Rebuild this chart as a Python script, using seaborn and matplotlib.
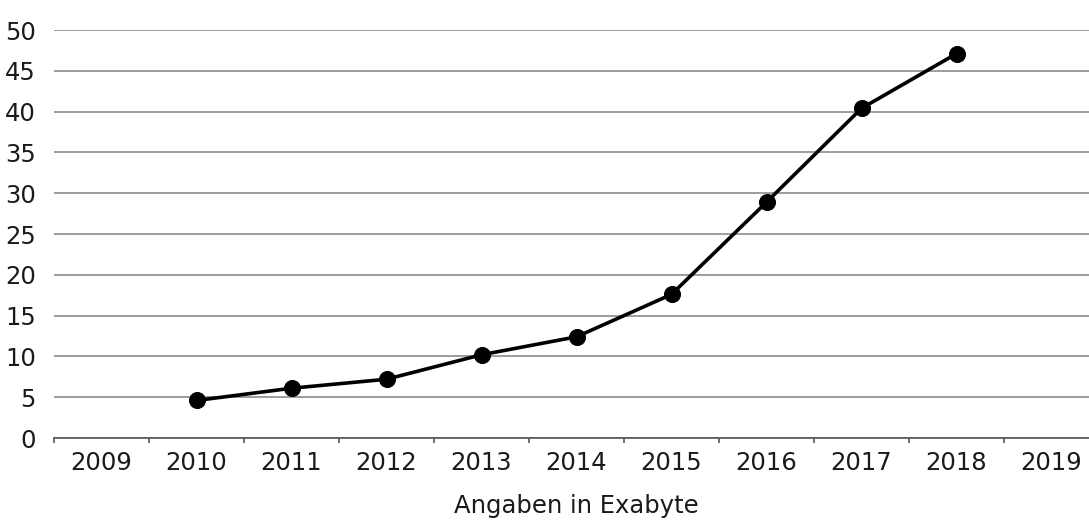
import numpy as np
import pandas as pd
import matplotlib
matplotlib.use("Agg")
import matplotlib.pyplot as plt
import seaborn as sns

years = [2009, 2010, 2011, 2012, 2013, 2014, 2015, 2016, 2017, 2018, 2019]
data_years = [2010, 2011, 2012, 2013, 2014, 2015, 2016, 2017, 2018]
exabyte = [4.6, 6.1, 7.2, 10.2, 12.4, 17.6, 28.9, 40.4, 47.1]
y_ticks = [0, 5, 10, 15, 20, 25, 30, 35, 40, 45, 50]

sns.set_style("white")
plt.rcParams['font.family'] = ['DejaVu Sans']

df = pd.DataFrame({'Jahr': data_years, 'Exabyte': exabyte})

fig = plt.figure(figsize=(10.89, 5.2), dpi=100)
ax = fig.add_axes([54 / 1089, 82 / 520, 1045 / 1089, 408 / 520])

sns.lineplot(data=df, x='Jahr', y='Exabyte', ax=ax, color='black',
             linewidth=2.6, marker='o', markersize=11.5,
             markeredgecolor='black', markerfacecolor='black', zorder=3)

ax.set_xlim(years[0] - 0.5, years[-1] + 0.5)
ax.set_ylim(0, 50)
ax.set_yticks(y_ticks)
ax.set_xticks(years)
ax.set_xticklabels([str(y) for y in years])
ax.set_xticks([y - 0.5 for y in years] + [years[-1] + 0.5], minor=True)
ax.tick_params(axis='x', which='major', bottom=False, length=0, pad=9,
               labelsize=17.5, labelcolor='#1a1a1a')
ax.tick_params(axis='x', which='minor', bottom=True, length=3.5, width=1.2,
               color='#555555', direction='out')
ax.tick_params(axis='y', length=0, pad=13, labelsize=17.5, labelcolor='#1a1a1a')

ax.grid(axis='y', color='#8c8c8c', linewidth=1.2)
ax.set_axisbelow(True)
for side in ['top', 'right', 'left']:
    ax.spines[side].set_visible(False)
ax.spines['bottom'].set_color('#555555')
ax.spines['bottom'].set_linewidth(1.2)

ax.set_ylabel('')
ax.set_xlabel('Angaben in Exabyte', fontsize=17.5, labelpad=14, color='#1a1a1a')

fig.savefig('out.png', dpi=100)
